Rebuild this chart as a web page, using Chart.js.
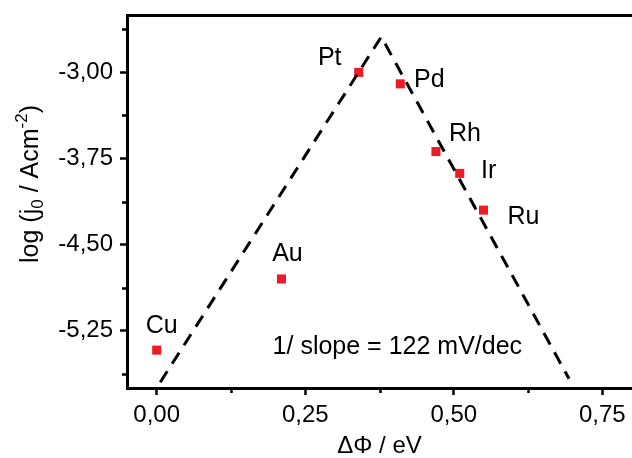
<!DOCTYPE html>
<html>
<head>
<meta charset="utf-8">
<script src="https://cdn.jsdelivr.net/npm/chart.js@4.4.1/dist/chart.umd.min.js"></script>
<style>
  html, body { margin: 0; padding: 0; background: #fff; overflow: hidden; }
  canvas { display: block; }
</style>
</head>
<body>
<canvas id="grafico" width="632" height="458"></canvas>
<script>
/* Volcano plot: log(j0) vs deltaPhi, com as duas retas tracejadas do ajuste. */

const metais = ["Cu", "Au", "Pt", "Pd", "Rh", "Ir", "Ru"];
const deltaPhi = [0.00, 0.21, 0.34, 0.41, 0.47, 0.51, 0.55];
const logJ0 = [-5.42, -4.80, -3.00, -3.10, -3.69, -3.88, -4.20];

// reta tracejada (vulcão): início, pico, fim
const ajusteX = [0.006, 0.378, 0.694];
const ajusteY = [-5.70, -2.69, -5.67];

const ticksX = [0, 0.25, 0.5, 0.75];
const ticksXMenor = [0.125, 0.375, 0.625];
const ticksY = [-3, -3.75, -4.5, -5.25];
const ticksYMenor = [-2.625, -3.375, -4.125, -4.875, -5.625];

const textoSlope = "1/ slope = 122 mV/dec";

const FONTE = '"Liberation Sans", Arial, sans-serif';

function virgula(v) {
  return Number(v).toFixed(2).replace(".", ",");
}

// deslocamento (px) de cada rótulo em relação ao ponto
const offsetRotulo = {
  Cu: [5, -24], Au: [6, -25], Pt: [-29, -14], Pd: [29, -4],
  Rh: [29, -17], Ir: [29, -2], Ru: [40, 7],
};

const extras = {
  id: "extras",
  afterDraw(chart) {
    const { ctx, chartArea: a } = chart;
    const sx = chart.scales.x, sy = chart.scales.y;
    ctx.save();

    // ticks menores
    ctx.strokeStyle = "#000";
    ctx.lineWidth = 2.5;
    ctx.beginPath();
    ticksXMenor.forEach(v => {
      const px = Math.round(sx.getPixelForValue(v)) + 0.5;
      ctx.moveTo(px, a.bottom);
      ctx.lineTo(px, a.bottom + 5);
    });
    ticksYMenor.forEach(v => {
      const py = Math.round(sy.getPixelForValue(v)) + 0.5;
      ctx.moveTo(a.left, py);
      ctx.lineTo(a.left - 5, py);
    });
    ctx.stroke();

    // rótulos dos metais
    ctx.fillStyle = "#000";
    ctx.font = `25px ${FONTE}`;
    ctx.textAlign = "center";
    ctx.textBaseline = "middle";
    metais.forEach((m, i) => {
      const [dx, dy] = offsetRotulo[m];
      ctx.fillText(m, sx.getPixelForValue(deltaPhi[i]) + dx, sy.getPixelForValue(logJ0[i]) + dy);
    });
    ctx.fillText(textoSlope, sx.getPixelForValue(0.405), sy.getPixelForValue(-5.395));

    // título do eixo y com sub/sobrescrito
    const partes = [
      ["log (j", 25, 0],
      ["0", 17, 5],
      [" / Acm", 25, 0],
      ["-2", 17, -11],
      [")", 25, 0],
    ];
    let total = 0;
    partes.forEach(p => { ctx.font = `${p[1]}px ${FONTE}`; total += ctx.measureText(p[0]).width; });
    ctx.translate(38, 184);
    ctx.rotate(-Math.PI / 2);
    ctx.textAlign = "left";
    ctx.textBaseline = "alphabetic";
    let u = -total / 2;
    partes.forEach(p => {
      ctx.font = `${p[1]}px ${FONTE}`;
      ctx.fillText(p[0], u, p[2]);
      u += ctx.measureText(p[0]).width;
    });
    ctx.restore();
  },
};

const eixoTicks = {
  drawOnChartArea: false, drawTicks: true, tickLength: 7, tickWidth: 2.5, tickColor: "#000",
};

// sem folga extra para rótulos que passam da borda
function semFolga(s) {
  s.paddingLeft = 0; s.paddingRight = 0; s.paddingTop = 0; s.paddingBottom = 0;
}

new Chart(document.getElementById("grafico"), {
  type: "scatter",
  data: {
    datasets: [
      {
        label: "ajuste",
        data: ajusteX.map((x, i) => ({ x, y: ajusteY[i] })),
        showLine: true,
        borderColor: "#000",
        borderWidth: 3,
        borderDash: [13, 9],
        pointRadius: 0,
        fill: false,
      },
      {
        label: "metais",
        data: deltaPhi.map((x, i) => ({ x, y: logJ0[i] })),
        pointStyle: "rect",
        pointRadius: 6.4,
        pointHoverRadius: 6.4,
        backgroundColor: "#ed1c24",
        borderWidth: 0,
      },
    ],
  },
  options: {
    responsive: false, animation: false, devicePixelRatio: 1,
    layout: { padding: 0, autoPadding: false },
    plugins: { legend: { display: false }, tooltip: { enabled: false } },
    scales: {
      x: {
        type: "linear", min: -0.05, max: 0.8,
        afterBuildTicks: s => { s.ticks = ticksX.map(v => ({ value: v })); },
        afterFit: s => { s.height = 70; semFolga(s); },
        ticks: {
          callback: v => virgula(v), color: "#000", padding: 6,
          maxRotation: 0, autoSkip: false, font: { family: FONTE, size: 24 },
        },
        grid: eixoTicks,
        border: { display: true, color: "#000", width: 3 },
        title: {
          display: true, text: "ΔΦ / eV", color: "#000", padding: 0,
          font: { family: FONTE, size: 24, lineHeight: 1 },
        },
      },
      x2: {
        type: "linear", position: "top", axis: "x", min: -0.05, max: 0.8,
        afterFit: s => { s.height = 15; semFolga(s); },
        ticks: { display: false },
        grid: { drawOnChartArea: false, drawTicks: false },
        border: { display: true, color: "#000", width: 3 },
      },
      y: {
        type: "linear", min: -5.75, max: -2.5,
        afterBuildTicks: s => { s.ticks = ticksY.map(v => ({ value: v })); },
        afterFit: s => { s.width = 127; semFolga(s); },
        ticks: {
          callback: v => virgula(v), color: "#000", padding: 7,
          autoSkip: false, font: { family: FONTE, size: 24 },
        },
        grid: eixoTicks,
        border: { display: true, color: "#000", width: 3 },
      },
    },
  },
  plugins: [extras],
});
</script>
</body>
</html>
